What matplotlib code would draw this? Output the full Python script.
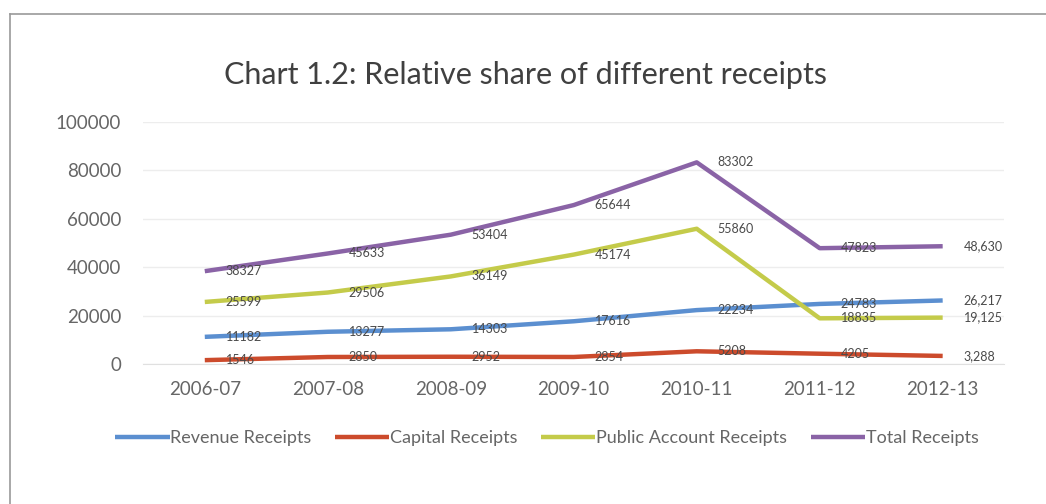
import matplotlib
matplotlib.use("Agg")
import matplotlib.pyplot as plt
from matplotlib.lines import Line2D

years = ["2006-07", "2007-08", "2008-09", "2009-10", "2010-11", "2011-12", "2012-13"]
revenue = [11182, 13277, 14303, 17616, 22234, 24783, 26217]
capital = [1546, 2850, 2952, 2854, 5208, 4205, 3288]
public_account = [25599, 29506, 36149, 45174, 55860, 18835, 19125]
total = [38327, 45633, 53404, 65644, 83302, 47823, 48630]

series = [
    ("Revenue Receipts", revenue, "#5b8fd0"),
    ("Capital Receipts", capital, "#cc4b2c"),
    ("Public Account Receipts", public_account, "#c4cb4a"),
    ("Total Receipts", total, "#8a63a6"),
]

plt.rcParams['font.family'] = ['Lato', 'DejaVu Sans']

fig = plt.figure(figsize=(10.46, 5.04), dpi=100)
ax = fig.add_axes([0.137, 0.278, 0.823, 0.480])

x = list(range(len(years)))
for name, vals, col in series:
    ax.plot(x, vals, color=col, lw=3.2, label=name, solid_capstyle="butt")
    for i, v in enumerate(vals):
        # last year is printed with thousands separators
        txt = "{:,}".format(v) if i == len(vals) - 1 else str(v)
        ax.annotate(txt, (i, v), xytext=(15, 0), textcoords="offset points",
                    va="center", ha="left", fontsize=9, color="#4a4a4a")

ax.set_xlim(-0.5, len(years) - 0.5)
ax.set_ylim(0, 100000)
ax.set_yticks(range(0, 100001, 20000))
ax.set_xticks(x)
ax.set_xticklabels(years)
ax.tick_params(axis="both", length=0, labelsize=13.5, labelcolor="#666666")
ax.tick_params(axis="x", pad=12)
ax.tick_params(axis="y", pad=16)
ax.grid(axis="y", color="#ededed", lw=1)
ax.set_axisbelow(True)
for s in ["top", "right", "left"]:
    ax.spines[s].set_visible(False)
ax.spines["bottom"].set_color("#e0e0e0")

fig.text(0.502, 0.851, "Chart 1.2: Relative share of different receipts",
         ha="center", va="center", fontsize=22, color="#404040")

fig.legend(loc="center", bbox_to_anchor=(0.523, 0.131), ncol=4, frameon=False,
           fontsize=13, handlelength=3.0, handletextpad=0.05, columnspacing=1.3,
           labelcolor="#666666")

# outer chart frame
fig.add_artist(Line2D([10 / 1046, 1.0], [1 - 14 / 504, 1 - 14 / 504],
                      transform=fig.transFigure, color="#9a9a9a", lw=1.2))
fig.add_artist(Line2D([10 / 1046, 10 / 1046], [0.0, 1 - 14 / 504],
                      transform=fig.transFigure, color="#9a9a9a", lw=1.2))

fig.savefig("out.png", dpi=100, facecolor="white")
